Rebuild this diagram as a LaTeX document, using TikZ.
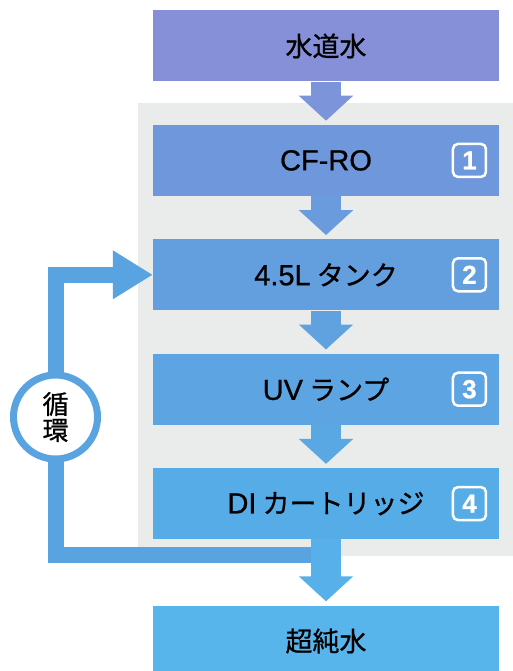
\documentclass[tikz,border=0pt]{standalone}
\usepackage{fontspec}
\setmainfont{Noto Sans CJK JP}[FakeBold=0.8]
\newfontfamily\latfont{Liberation Sans}[FakeBold=0.8]
\newcommand{\lat}[1]{{\latfont\fontsize{29}{30}\selectfont #1}}
\usetikzlibrary{positioning}
\usetikzlibrary{arrows.meta}

\definecolor{tapblue}{RGB}{134,144,216}
\definecolor{cfroblue}{RGB}{111,152,220}
\definecolor{tankblue}{RGB}{99,158,222}
\definecolor{uvblue}{RGB}{93,164,226}
\definecolor{diblue}{RGB}{86,172,231}
\definecolor{pureblue}{RGB}{88,181,235}
\definecolor{loopblue}{RGB}{88,163,224}
\definecolor{bggrey}{RGB}{234,236,236}

\begin{document}
\begin{tikzpicture}[x=1pt, y=-1pt,
    stage/.style={rectangle, fill=#1, minimum width=346pt, minimum height=71pt,
        inner sep=0pt, font=\fontsize{27}{30}\selectfont},
    badge/.style={rectangle, rounded corners=5pt, draw=white, line width=2.5pt,
        minimum size=33pt, inner sep=0pt, text=white, font=\latfont\fontsize{26}{26}\selectfont\bfseries},
    flow/.style={draw=#1, line width=30pt, -{Triangle[width=53pt,length=25pt]}, shorten >=4pt},
    ring/.style={circle, draw=loopblue, fill=white, line width=7pt, minimum size=84pt,
        inner sep=0pt, align=center, font=\fontsize{26}{26}\selectfont}]
    \useasboundingbox (0,0) rectangle (513,671);
    \fill[bggrey] (138,103) rectangle (513,556);

    \node[stage=tapblue] (tap) at (326,46) {水道水};
    \node[stage=cfroblue, below=43pt of tap] (cfro) {\lat{CF-RO}};
    \node[stage=tankblue, below=43pt of cfro] (tank) {\lat{4.5L} タンク};
    \node[stage=uvblue, below=43pt of tank] (uv) {\lat{UV} ランプ};
    \node[stage=diblue, below=43pt of uv] (di) {\lat{DI} カートリッジ};
    \node[stage=pureblue, below=66pt of di] (pure) {超純水};

    \node[badge, left=12pt of cfro.east] (n1) {1};
    \node[badge, left=12pt of tank.east] (n2) {2};
    \node[badge, left=12pt of uv.east] (n3) {3};
    \node[badge, left=12pt of di.east] (n4) {4};

    \coordinate (split) at (326,555);
    \coordinate (bend) at (55.5,555);
    \coordinate (rise) at (bend |- tank.west);
    \draw[loopblue, line width=16pt, line join=miter,
        -{Triangle[width=46pt,length=40pt]}] (split) -- (bend) -- (rise) -- (tank.west);
    \node[ring] (cycle) at (55.5,417) {循\\環};

    \draw[flow=tapblue!55!cfroblue] (tap) -- (cfro);
    \draw[flow=cfroblue!50!tankblue] (cfro) -- (tank);
    \draw[flow=tankblue!50!uvblue] (tank) -- (uv);
    \draw[flow=uvblue!50!diblue] (uv) -- (di);
    \draw[flow=diblue!50!pureblue] (di) -- (pure);
\end{tikzpicture}
\end{document}
